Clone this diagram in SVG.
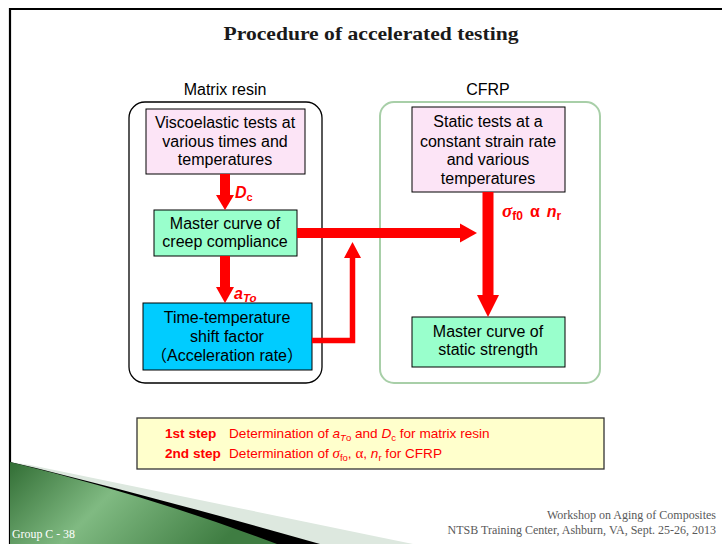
<svg xmlns="http://www.w3.org/2000/svg" width="722" height="544" viewBox="0 0 722 544">
  <style>
    .lbl { font-family: "Liberation Sans", "Noto Sans CJK JP", Arial, sans-serif; font-size: 16px; fill: #000; text-anchor: middle; }
    .box { stroke: #000; stroke-width: 1; }
    .red { fill: #ff0000; font-family: "Liberation Sans", Arial, sans-serif; font-weight: bold; font-style: italic; font-size: 16px; }
    .shaft { stroke: #ff0000; fill: none; stroke-linecap: butt; stroke-linejoin: miter; }
    .step { font-family: "Liberation Sans", Arial, sans-serif; font-size: 13.6px; fill: #ff0000; }
    .foot { font-family: "Liberation Serif", "DejaVu Serif", serif; font-size: 12px; fill: #595959; }
  </style>
  <defs>
    <linearGradient id="swoosh" x1="0" y1="0" x2="1" y2="0.3">
      <stop offset="0" stop-color="#326e35"/>
      <stop offset="0.45" stop-color="#80ba82"/>
      <stop offset="1" stop-color="#3f7d42"/>
    </linearGradient>
  </defs>

  <!-- slide frame -->
  <rect width="722" height="544" fill="#fff"/>
  <path d="M10 544 V9 H722" fill="none" stroke="#000" stroke-width="2.2"/>

  <!-- title -->
  <text x="371" y="40" text-anchor="middle" font-family="Liberation Serif, DejaVu Serif, serif" font-weight="bold" font-size="19" fill="#1a1a1a" textLength="295" lengthAdjust="spacingAndGlyphs">Procedure of accelerated testing</text>

  <!-- group frames -->
  <g id="matrix-resin">
    <text class="lbl" x="225" y="95">Matrix resin</text>
    <rect x="129" y="102" width="193" height="281" rx="16" fill="none" stroke="#000" stroke-width="1.3"/>
  </g>
  <g id="cfrp">
    <text class="lbl" x="488" y="95">CFRP</text>
    <rect x="380" y="102" width="220" height="281" rx="14" fill="none" stroke="#a8cfa8" stroke-width="2"/>
  </g>

  <!-- nodes -->
  <g id="viscoelastic-tests">
    <rect class="box" x="146" y="109" width="159" height="65" fill="#fce4f6"/>
    <text class="lbl" x="225" y="128">Viscoelastic tests at</text>
    <text class="lbl" x="225" y="147">various times and</text>
    <text class="lbl" x="225" y="165">temperatures</text>
  </g>
  <g id="creep-master-curve">
    <rect class="box" x="154" y="210" width="143" height="46" fill="#99ffcc"/>
    <text class="lbl" x="225" y="229">Master curve of</text>
    <text class="lbl" x="225" y="247">creep compliance</text>
  </g>
  <g id="shift-factor">
    <rect class="box" x="143" y="303" width="169" height="67" fill="#00ccff"/>
    <text class="lbl" x="227" y="323">Time-temperature</text>
    <text class="lbl" x="227" y="342">shift factor</text>
    <text class="lbl" x="227" y="361">（Acceleration rate）</text>
  </g>
  <g id="static-tests">
    <rect class="box" x="412" y="107" width="153" height="85" fill="#fce4f6"/>
    <text class="lbl" x="488" y="127">Static tests at a</text>
    <text class="lbl" x="488" y="147">constant strain rate</text>
    <text class="lbl" x="488" y="165">and various</text>
    <text class="lbl" x="488" y="184">temperatures</text>
  </g>
  <g id="strength-master-curve">
    <rect class="box" x="412" y="317" width="153" height="50" fill="#99ffcc"/>
    <text class="lbl" x="488" y="337">Master curve of</text>
    <text class="lbl" x="488" y="355">static strength</text>
  </g>

  <!-- connectors -->
  <g id="connectors" fill="#ff0000">
    <!-- viscoelastic tests -> creep master curve -->
    <line class="shaft" x1="225" y1="174" x2="225" y2="195" stroke-width="10"/>
    <polygon points="216,195 234,195 225,210"/>
    <!-- creep master curve -> shift factor -->
    <line class="shaft" x1="225" y1="256" x2="225" y2="287" stroke-width="10"/>
    <polygon points="216,287 234,287 225,303"/>
    <!-- creep master curve -> CFRP -->
    <line class="shaft" x1="297" y1="233" x2="460" y2="233" stroke-width="10"/>
    <polygon points="460,223.5 460,242.5 477,233"/>
    <!-- shift factor -> CFRP (elbow) -->
    <path class="shaft" d="M312 340.5 H352.5 V258" stroke-width="5.5"/>
    <polygon points="344,258 361,258 352.5,242"/>
    <!-- static tests -> strength master curve -->
    <line class="shaft" x1="488" y1="192" x2="488" y2="295" stroke-width="11"/>
    <polygon points="477,295 499,295 488,317"/>
  </g>

  <!-- connector labels -->
  <g id="connector-labels">
    <text class="red" x="235" y="198" font-size="17">D<tspan font-size="11" font-style="normal" dy="3">c</tspan></text>
    <text class="red" x="234" y="299" font-size="17">a<tspan font-size="11.5" dy="3">To</tspan></text>
    <text class="red" x="502" y="217" font-size="17"><tspan font-family="Liberation Serif, DejaVu Serif, serif" font-size="19">σ</tspan><tspan font-size="12" font-style="normal" dy="3">f0</tspan><tspan dy="-3" font-style="normal" dx="7">α</tspan><tspan dx="7">n</tspan><tspan font-size="12" font-style="normal" dy="3">r</tspan></text>
  </g>

  <!-- step summary -->
  <g id="steps">
    <rect x="137" y="418" width="467" height="51" fill="#ffffcc" stroke="#333" stroke-width="1.3"/>
    <text class="step" x="165" y="438"><tspan font-weight="bold">1st step</tspan><tspan x="229">Determination of </tspan><tspan font-style="italic">a</tspan><tspan font-style="italic" font-size="9.5" dy="3">T</tspan><tspan font-size="9.5">o</tspan><tspan dy="-3"> and </tspan><tspan font-style="italic">D</tspan><tspan font-size="9.5" dy="3">c</tspan><tspan dy="-3"> for matrix resin</tspan></text>
    <text class="step" x="165" y="458"><tspan font-weight="bold">2nd step</tspan><tspan x="229">Determination of </tspan><tspan font-family="Liberation Serif, DejaVu Serif, serif" font-style="italic" font-size="15">σ</tspan><tspan font-size="9.5" dy="3">fo</tspan><tspan dy="-3">, </tspan><tspan font-family="Liberation Serif, DejaVu Serif, serif" font-size="15">α</tspan><tspan>, </tspan><tspan font-style="italic">n</tspan><tspan font-size="9.5" dy="3">r</tspan><tspan dy="-3"> for CFRP</tspan></text>
  </g>

  <!-- footer swoosh -->
  <g id="footer">
    <path d="M30 465 Q200 500 413 544 H10 V462 Z" fill="#dde8df"/>
    <path d="M36 468 Q180 504 320 544 H10 V462 Z" fill="#000"/>
    <path d="M10 462 Q150 496 277 544 H10 Z" fill="url(#swoosh)"/>
    <text x="12" y="538" font-family="Liberation Serif, DejaVu Serif, serif" font-size="12.5" fill="#fff" textLength="63" lengthAdjust="spacingAndGlyphs">Group C - 38</text>
    <text class="foot" x="716" y="519" text-anchor="end">Workshop on Aging of Composites</text>
    <text class="foot" x="716" y="534" text-anchor="end">NTSB Training Center, Ashburn, VA, Sept. 25-26, 2013</text>
  </g>
</svg>
